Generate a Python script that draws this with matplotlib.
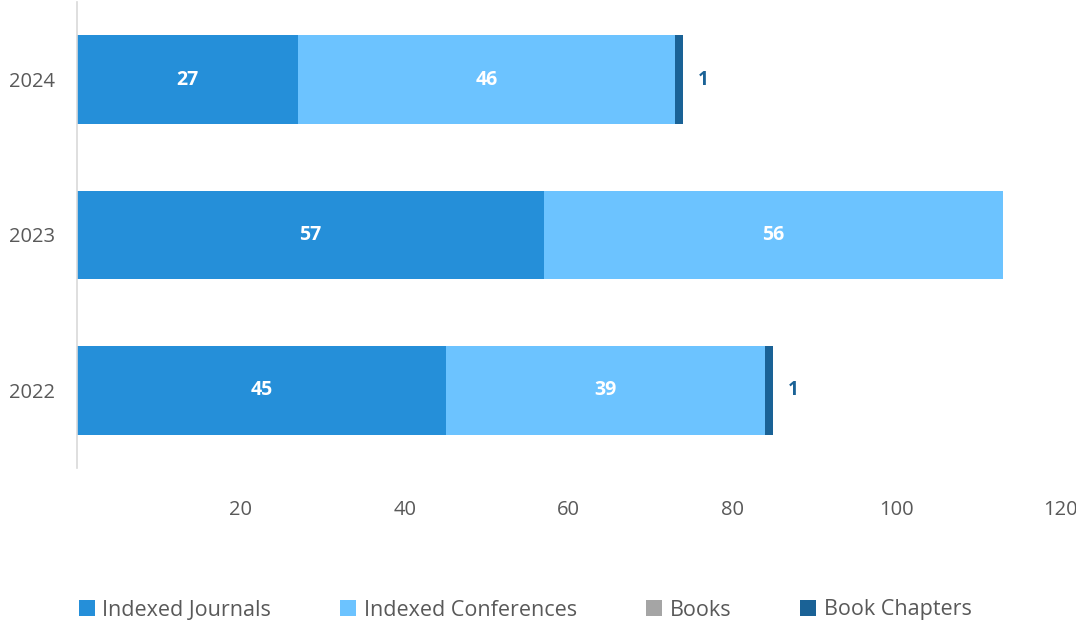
import matplotlib.pyplot as plt
import numpy as np

years = ["2022", "2023", "2024"]
journals = [45, 57, 27]
conferences = [39, 56, 46]
books = [0, 0, 0]
chapters = [1, 0, 1]

series = [
    ("Indexed Journals", journals, "#258FD9"),
    ("Indexed Conferences", conferences, "#6CC3FF"),
    ("Books", books, "#A5A5A5"),
    ("Book Chapters", chapters, "#1A6296"),
]

plt.rcParams['font.family'] = ['Open Sans', 'DejaVu Sans']

fig = plt.figure(figsize=(10.76, 6.24), dpi=100)
ax = fig.add_axes([77 / 1076, 1 - 468 / 624, 983 / 1076, 466 / 624])

y = np.arange(len(years))
left = np.zeros(len(years))
for name, vals, color in series:
    vals = np.array(vals, dtype=float)
    ax.barh(y, vals, left=left, height=0.57, color=color, label=name)
    for i, v in enumerate(vals):
        if v == 0:
            continue
        if name == "Book Chapters":
            ax.text(left[i] + v + 1.8, y[i], f"{int(v)}", va="center", ha="left",
                    color="#1A6296", fontsize=13.5, fontweight="bold")
        else:
            ax.text(left[i] + v / 2, y[i], f"{int(v)}", va="center", ha="center",
                    color="white", fontsize=14, fontweight="bold")
    left += vals

ax.set_xlim(0, 120)
ax.set_ylim(-0.5, 2.5)
ax.set_yticks(y)
ax.set_yticklabels(years)
ax.set_xticks([20, 40, 60, 80, 100, 120])
ax.tick_params(axis="both", length=0, labelsize=14.5, colors="#595959")
ax.tick_params(axis="x", pad=23)
ax.tick_params(axis="y", pad=16)
for s in ["top", "right", "bottom"]:
    ax.spines[s].set_visible(False)
ax.spines["left"].set_color("#D9D9D9")
ax.spines["left"].set_linewidth(1.2)

fig.legend(loc="center", bbox_to_anchor=(0.488, 1 - 610 / 624), ncol=4, frameon=False,
           handlelength=0.75, handleheight=0.75, handletextpad=0.35, columnspacing=3.2,
           fontsize=15.5, labelcolor="#595959")

fig.savefig("out.png", dpi=100)
